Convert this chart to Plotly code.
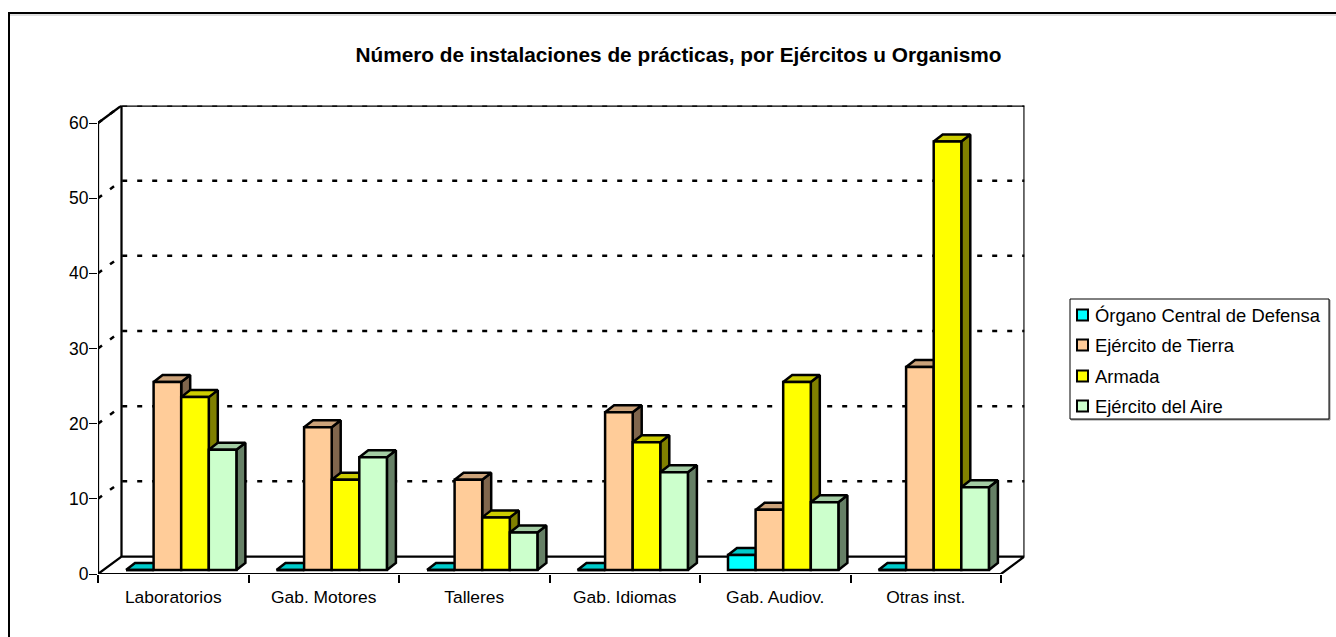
import plotly.graph_objects as go

categories = ["Laboratorios", "Gab. Motores", "Talleres", "Gab. Idiomas", "Gab. Audiov.", "Otras inst."]
organo = [0, 0, 0, 0, 2, 0]
tierra = [25, 19, 12, 21, 8, 27]
armada = [23, 12, 7, 17, 25, 57]
aire = [16, 15, 5, 13, 9, 11]
y_ticks = [0, 10, 20, 30, 40, 50, 60]

series = [
    ("Órgano Central de Defensa", organo, "#00FFFF", "#00CCCC", "#008080"),
    ("Ejército de Tierra", tierra, "#FFCC99", "#CCA37A", "#80664D"),
    ("Armada", armada, "#FFFF00", "#CCCC00", "#808000"),
    ("Ejército del Aire", aire, "#CCFFCC", "#A3CCA3", "#668066"),
]

W, H = 1336, 637
px = lambda x: x / W
py = lambda y: 1 - y / H

# window-pixel geometry of the oblique box
FX0, FX1, FY0, FY1 = 98.0, 1001.0, 574.0, 123.0
WDX, WDY = 23.5, 17.5          # wall depth
BDX, BDY = 9.0, 7.0            # bar depth
LIFT = 4.0                     # floor gap in front of the bars
GROUP_START = 28.0
BAR_W = 27.6
LW = 2.5

px_cat = (FX1 - FX0) / len(categories)
px_unit = (FY0 - FY1) / y_ticks[-1]
xu = lambda p: p / px_cat
yu = lambda p: p / px_unit

x_max = len(categories) + xu(WDX)
y_max = y_ticks[-1] + yu(WDY)

fig = go.Figure()
n = len(categories)
wd, hd = xu(WDX), yu(WDY)

# dotted grid
gx, gy = [], []
for v in y_ticks[1:]:
    gx += [0, wd, n + wd, None]
    gy += [v, v + hd, v + hd, None]
fig.add_trace(go.Scatter(x=gx, y=gy, mode="lines", showlegend=False, hoverinfo="skip", cliponaxis=False,
                         line=dict(color="black", width=2.5, dash="5px,10px"), zorder=0))
# walls
top = y_ticks[-1]
wx = [0, n, n + wd, wd, 0, None, wd, wd, n + wd, n + wd, None, 0, wd, None, 0, 0]
wy = [0, 0, hd, hd, 0, None, hd, top + hd, top + hd, hd, None, top, top + hd, None, 0, top]
fig.add_trace(go.Scatter(x=wx, y=wy, mode="lines", showlegend=False, hoverinfo="skip", cliponaxis=False,
                         line=dict(color="black", width=2.25), zorder=1))

bw, lift, bdx, bdy = xu(BAR_W), yu(LIFT), xu(BDX), yu(BDY)
for s, (name, vals, front, topc, side) in enumerate(series):
    xs = [i + xu(GROUP_START) + (s + 0.5) * bw for i in range(n)]
    sx, sy, tx, ty = [], [], [], []
    for x, v in zip(xs, vals):
        l, r, b, t = x - bw / 2, x + bw / 2, lift, lift + v
        sx += [r, r + bdx, r + bdx, r, r, None]
        sy += [b, b + bdy, t + bdy, t, b, None]
        tx += [l, l + bdx, r + bdx, r, l, None]
        ty += [t, t + bdy, t + bdy, t, t, None]
    z = 2 + 3 * s
    fig.add_trace(go.Scatter(x=sx, y=sy, mode="lines", fill="toself", fillcolor=side, cliponaxis=False,
                             line=dict(color="black", width=LW), showlegend=False, hoverinfo="skip", zorder=z))
    fig.add_trace(go.Scatter(x=tx, y=ty, mode="lines", fill="toself", fillcolor=topc, cliponaxis=False,
                             line=dict(color="black", width=LW), showlegend=False, hoverinfo="skip", zorder=z + 1))
    fig.add_trace(go.Bar(x=xs, y=vals, base=lift, width=bw, name=name, cliponaxis=False, showlegend=False,
                         marker=dict(color=front, line=dict(color="black", width=LW)),
                         customdata=categories, hovertemplate="%{customdata}: %{y}<extra>" + name + "</extra>",
                         zorder=z + 2))

# chart frame (runs off the right and bottom of the window), legend box and swatches
shapes = [
    dict(type="line", xref="paper", yref="paper", x0=px(10), x1=1.01, y0=py(15), y1=py(15),
         line=dict(color="#C0C0C0", width=1)),
    dict(type="rect", xref="paper", yref="paper", x0=px(9), x1=1.02, y0=py(13), y1=-0.02,
         line=dict(color="black", width=2), layer="below"),
    dict(type="rect", xref="paper", yref="paper", x0=px(1071), x1=px(1330), y0=py(300), y1=py(420),
         line=dict(color="#909090", width=1), fillcolor="#909090"),
    dict(type="rect", xref="paper", yref="paper", x0=px(1070), x1=px(1329), y0=py(299), y1=py(419),
         line=dict(color="black", width=1), fillcolor="white"),
]
annotations = []
LEG_Y = [315, 345, 376, 406]
for (name, _, front, _, _), yc in zip(series, LEG_Y):
    shapes.append(dict(type="rect", xref="paper", yref="paper", x0=px(1077), x1=px(1088),
                       y0=py(yc - 5.5), y1=py(yc + 5.5), fillcolor=front,
                       line=dict(color="black", width=2)))
    annotations.append(dict(text=name, xref="paper", yref="paper", x=px(1093), y=py(yc), xanchor="left",
                            yanchor="middle", showarrow=False, font=dict(size=18.4)))

fig.update_layout(
    width=W, height=H, autosize=False,
    margin=dict(l=0, r=0, t=0, b=0, pad=0, autoexpand=False),
    paper_bgcolor="white", plot_bgcolor="rgba(0,0,0,0)",
    font=dict(family="Liberation Sans, Arial, sans-serif", color="black", size=17),
    barmode="overlay",
    title=dict(text="<b>Número de instalaciones de prácticas, por Ejércitos u Organismo</b>",
               x=px(678.5), xanchor="center", y=py(55), yanchor="middle",
               font=dict(size=20.8)),
    xaxis=dict(domain=[px(FX0), px(FX1 + WDX)], range=[0, x_max], showgrid=False, zeroline=False,
               showline=False, tickmode="array", tickvals=[i + 0.5 for i in range(n)], ticktext=categories,
               ticks="outside", ticklen=7, tickwidth=1, tickcolor="rgba(0,0,0,0)", tickfont=dict(size=17.4),
               minor=dict(tickmode="array", tickvals=list(range(n + 1)), ticks="outside", ticklen=8,
                          tickwidth=2, tickcolor="black", showgrid=False)),
    yaxis=dict(domain=[py(FY0), py(FY1 - WDY)], range=[0, y_max], showgrid=False, zeroline=False,
               showline=False, tickmode="array", tickvals=y_ticks, ticks="outside", ticklen=8, tickwidth=1,
               tickcolor="black", tickfont=dict(size=17.5), ticklabelstandoff=-3),
    shapes=shapes, annotations=annotations,
    showlegend=False,
)
fig.write_html(
    "out.html",
    config={"displayModeBar": False},
    post_script="document.body.style.margin='0';document.documentElement.style.overflow='hidden';",
)
